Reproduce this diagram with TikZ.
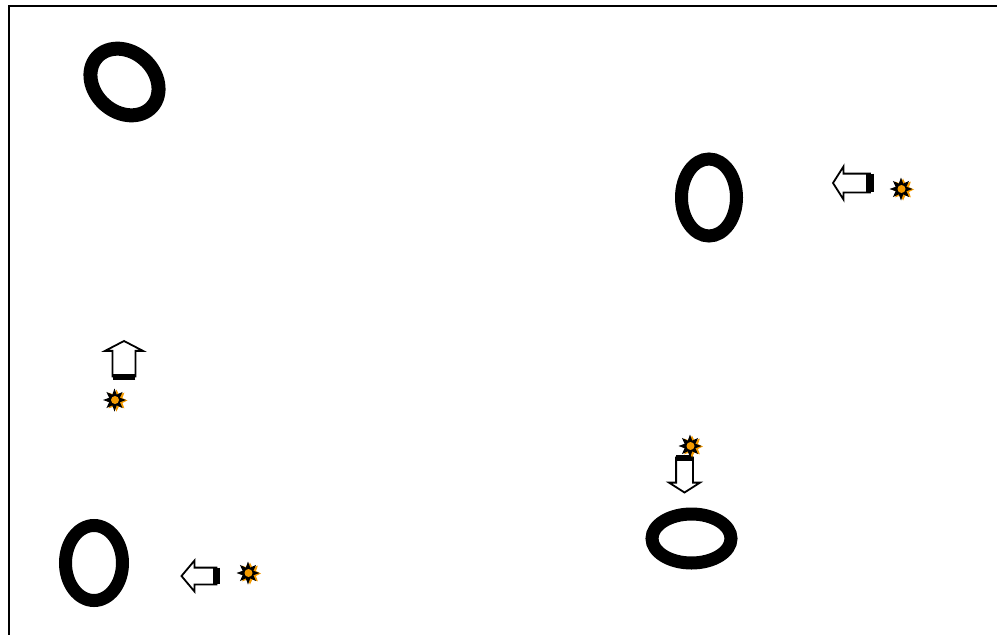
\documentclass[tikz,border=0pt]{standalone}
\usepackage{tikz}
\usetikzlibrary{shapes.geometric,shapes.arrows}
\definecolor{sunorange}{HTML}{F59B00}

\begin{document}
\begin{tikzpicture}[x=1pt, y=-1pt, every node/.style={inner sep=0pt, outer sep=0pt}]
\tikzset{ringnode/.style={draw, ellipse, line width=13pt},
  beam/.style={draw, line width=1.8pt, single arrow, single arrow tip angle=115, single arrow head indent=0pt, inner xsep=0pt, anchor=tail},
  band/.style={line width=6pt},
  sunback/.style={star, star points=8, star point ratio=1.7, fill=sunorange, minimum size=22pt},
  sunfront/.style={star, star points=8, star point ratio=2, fill=black, minimum size=23pt},
  suncore/.style={circle, fill=sunorange, minimum size=8pt}}
\useasboundingbox (0,0) rectangle (997,635);
\coordinate (frametl) at (9,6);
\coordinate (framebl) at (9,635);
\coordinate (frametr) at (997,6);
\draw[line width=1.8pt] (framebl) -- (frametl) -- (frametr);
% rings
\node[ringnode, line width=14pt, minimum width=74pt, minimum height=60pt, rotate=-42] (ringa) at (124.5,82) {};
\node[ringnode, minimum width=55pt, minimum height=77pt] (ringb) at (709,197.5) {};
\node[ringnode, minimum width=57pt, minimum height=75pt] (ringc) at (94,563) {};
\node[ringnode, minimum width=79pt, minimum height=49pt] (ringd) at (691.5,538.5) {};
% arrows
\node[beam, inner ysep=8.5pt, minimum height=37pt, minimum width=32pt, rotate=180] (beamb) at (870,183) {};
\node[beam, inner ysep=10pt, minimum height=35.5pt, minimum width=38pt, single arrow tip angle=125, rotate=90] (beama) at (124,376.5) {};
\node[beam, inner ysep=7.5pt, minimum height=35pt, minimum width=30pt, rotate=-90] (beamd) at (684.5,457.5) {};
\node[beam, inner ysep=7.5pt, minimum height=35pt, minimum width=26pt, single arrow tip angle=100, rotate=180] (beamc) at (216.5,576) {};
\draw[band, line width=8pt] (beamb.before tail) -- (beamb.after tail);
\draw[band] (beama.before tail) -- (beama.after tail);
\draw[band] (beamd.before tail) -- (beamd.after tail);
\draw[band, line width=7pt] (beamc.before tail) -- (beamc.after tail);
% suns
\foreach \name/\xpos/\ypos in {suna/115/400, sunb/901.5/189, sunc/248.5/573, sund/690.5/446} {
  \node[sunback] (\name back) at (\xpos+1.5,\ypos+0.5) {};
  \node[sunfront] (\name) at (\xpos-0.5,\ypos) {};
  \node[suncore] (\name core) at (\xpos,\ypos) {};
}
\end{tikzpicture}
\end{document}
